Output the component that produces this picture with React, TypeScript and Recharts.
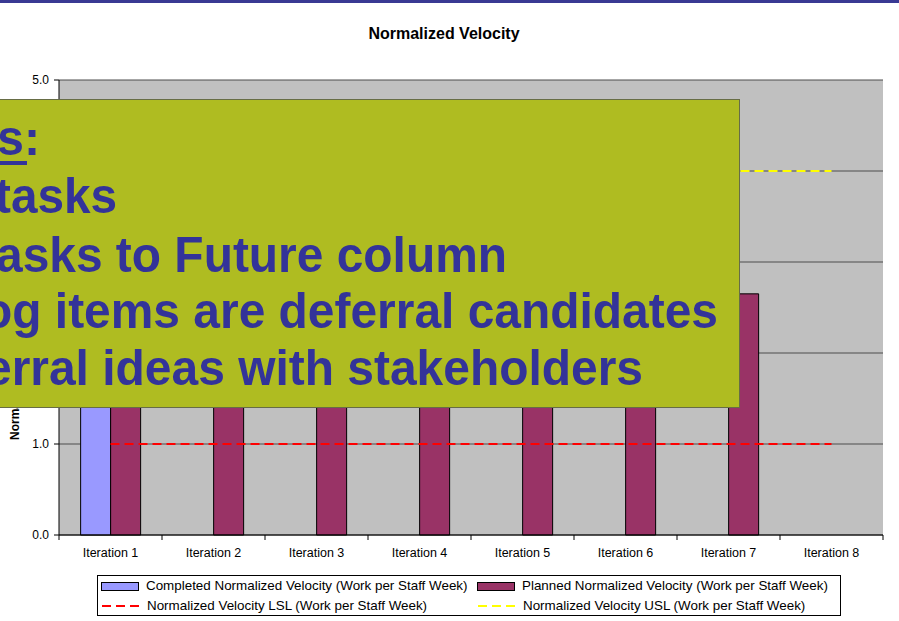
import { ComposedChart, Bar, Line, XAxis, YAxis, CartesianGrid } from 'recharts';

const iterations = ['Iteration 1', 'Iteration 2', 'Iteration 3', 'Iteration 4', 'Iteration 5', 'Iteration 6', 'Iteration 7', 'Iteration 8'];
const completed = [2.5, null, null, null, null, null, null, null];
const planned = [2.65, 2.65, 2.65, 2.65, 2.65, 2.65, 2.65, null];
const lsl = [1, 1, 1, 1, 1, 1, 1, 1];
const usl = [4, 4, 4, 4, 4, 4, 4, 4];
const yTicks = [0, 1, 2, 3, 4, 5];

const data = iterations.map((name, i) => ({
  name,
  completed: completed[i],
  planned: planned[i],
  lsl: lsl[i],
  usl: usl[i],
}));

const FONT = '"Liberation Sans", Arial, sans-serif';
const W = 899;
const H = 621;
const Y_AXIS_W = 59;
const RIGHT = 16;
const BAND = (W - Y_AXIS_W - RIGHT) / iterations.length;

// excel style: tick marks sit between the categories, labels in the middle
function IterationTick(props: any) {
  const { x, y, payload, index } = props;
  const axisY = y - 13;
  return (
    <g>
      <line x1={x - BAND / 2} x2={x - BAND / 2} y1={axisY} y2={axisY + 5} stroke="#000" />
      {index === iterations.length - 1 && (
        <line x1={x + BAND / 2} x2={x + BAND / 2} y1={axisY} y2={axisY + 5} stroke="#000" />
      )}
      <text x={x} y={y} dy="0.71em" textAnchor="middle" fontSize={12.5} fill="#000">
        {payload.value}
      </text>
    </g>
  );
}

function YLabel(props: any) {
  const { viewBox } = props;
  const cx = viewBox.x + 15;
  const cy = viewBox.y + viewBox.height / 2 + 12;
  return (
    <text
      x={cx}
      y={cy}
      transform={`rotate(-90, ${cx}, ${cy})`}
      textAnchor="middle"
      dominantBaseline="central"
      fontSize={12}
      fontWeight="bold"
      fill="#000"
    >
      Normalized Velocity (Work per Staff Week)
    </text>
  );
}

function LegendRow({ top, left, swatch, label }: { top: number; left: number; swatch: React.ReactNode; label: string }) {
  return (
    <div style={{ position: 'absolute', top, left, display: 'flex', alignItems: 'center', height: 16 }}>
      {swatch}
      <span style={{ fontSize: 13.4, lineHeight: '16px', whiteSpace: 'nowrap' }}>{label}</span>
    </div>
  );
}

const boxSwatch = (color: string) => (
  <div style={{ width: 38, height: 9, background: color, border: '1px solid #000', boxSizing: 'border-box', marginRight: 7 }} />
);
const dashSwatch = (color: string) => (
  <svg width={40} height={10} style={{ marginRight: 6 }}>
    <line x1={1} x2={40} y1={5} y2={5} stroke={color} strokeWidth={2} strokeDasharray="9 5" />
  </svg>
);

export default function App() {
  return (
    <div style={{ position: 'absolute', left: 0, top: 0, width: W, height: H, background: '#fff', fontFamily: FONT, overflow: 'hidden' }}>
      <div style={{ position: 'absolute', left: 0, top: 0, width: W, height: 3, background: '#393993' }} />

      <div style={{ position: 'absolute', left: 0, top: 25.5, width: 888, textAlign: 'center', fontSize: 16, lineHeight: '16px', fontWeight: 'bold' }}>
        Normalized Velocity
      </div>

      <div style={{ position: 'absolute', left: 0, top: 0 }}>
        <ComposedChart
          width={W}
          height={H}
          data={data}
          margin={{ top: 80, right: RIGHT, bottom: 56, left: 0 }}
          barCategoryGap="21%"
          barGap={0}
        >
          <CartesianGrid vertical={false} fill="#C0C0C0" fillOpacity={1} stroke="#4d4d4d" />
          <XAxis
            dataKey="name"
            height={30}
            interval={0}
            axisLine={{ stroke: '#000' }}
            tickLine={false}
            tickSize={5}
            tickMargin={8}
            tick={(p: any) => <IterationTick {...p} />}
          />
          <YAxis
            domain={[0, 5]}
            ticks={yTicks}
            width={Y_AXIS_W}
            interval={0}
            axisLine={{ stroke: '#000' }}
            tickLine={{ stroke: '#000' }}
            tickSize={5}
            tickMargin={5}
            tick={{ fill: '#000', fontSize: 12 }}
            tickFormatter={(v: number) => v.toFixed(1)}
            label={(p: any) => <YLabel {...p} />}
          />
          <YAxis yAxisId="frame" orientation="right" width={0} domain={[0, 5]} tick={false} tickLine={false} axisLine={{ stroke: '#808080' }} />
          <Bar dataKey="completed" fill="#9999FF" stroke="#000" strokeWidth={1} isAnimationActive={false} />
          <Bar dataKey="planned" fill="#993366" stroke="#000" strokeWidth={1} isAnimationActive={false} />
          <Line dataKey="lsl" stroke="#FF0000" strokeWidth={2} strokeDasharray="9 5" dot={false} activeDot={false} isAnimationActive={false} />
          <Line dataKey="usl" stroke="#FFFF00" strokeWidth={2} strokeDasharray="9 5" dot={false} activeDot={false} isAnimationActive={false} />
        </ComposedChart>
      </div>

      {/* legend */}
      <div style={{ position: 'absolute', left: 97, top: 575, width: 744, height: 41, border: '1px solid #000', boxSizing: 'border-box', background: '#fff' }}>
        <LegendRow top={2} left={3} swatch={boxSwatch('#9999FF')} label="Completed Normalized Velocity (Work per Staff Week)" />
        <LegendRow top={2} left={379} swatch={boxSwatch('#993366')} label="Planned Normalized Velocity (Work per Staff Week)" />
        <LegendRow top={22} left={3} swatch={dashSwatch('#FF0000')} label="Normalized Velocity LSL (Work per Staff Week)" />
        <LegendRow top={22} left={379} swatch={dashSwatch('#FFFF00')} label="Normalized Velocity USL (Work per Staff Week)" />
      </div>

      {/* callout box pasted over the chart */}
      <div style={{ position: 'absolute', left: -1, top: 99, width: 741, height: 309, background: '#AFBC21', border: '1px solid #676d45', boxSizing: 'border-box', overflow: 'hidden' }}>
        <svg width={740} height={308} style={{ position: 'absolute', left: 0, top: 0 }}>
          <g fill="#333399" fontWeight="bold" fontSize={50} fontFamily={FONT}>
            <text x={-3} y={55} textLength={43} lengthAdjust="spacingAndGlyphs">s:</text>
            <rect x={0} y={61} width={27} height={4} />
            <text x={-5} y={113} textLength={122} lengthAdjust="spacingAndGlyphs">tasks</text>
            <text x={-4} y={172} textLength={511} lengthAdjust="spacingAndGlyphs">asks to Future column</text>
            <text x={-17} y={228} textLength={735} lengthAdjust="spacingAndGlyphs">og items are deferral candidates</text>
            <text x={-15} y={285} textLength={658} lengthAdjust="spacingAndGlyphs">erral ideas with stakeholders</text>
          </g>
        </svg>
      </div>
    </div>
  );
}
